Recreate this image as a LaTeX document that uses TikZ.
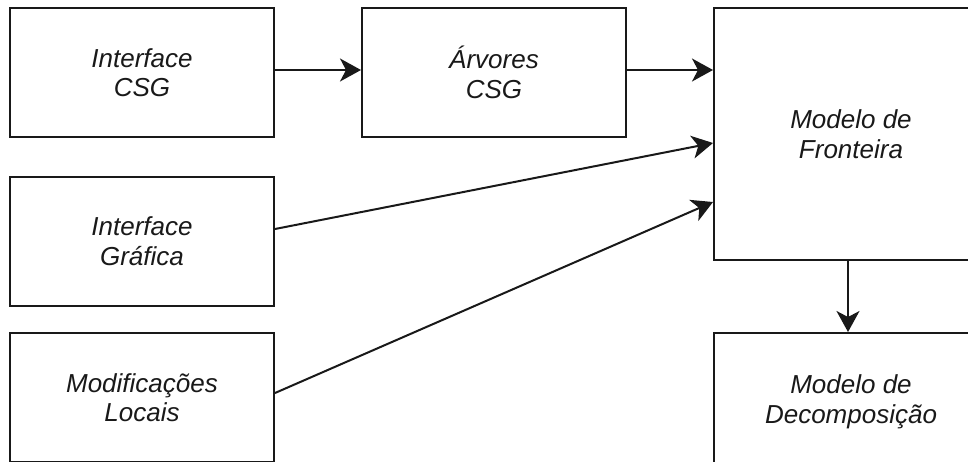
\documentclass[tikz,border=0pt]{standalone}
\usepackage{fontspec}
\setmainfont{Liberation Sans}
\usetikzlibrary{arrows.meta}

\tikzset{
  blk/.style={draw=black!90,line width=2pt,minimum width=264pt,minimum height=129pt,
    inner sep=0pt,align=center,text=black!90,
    font=\itshape\fontsize{26}{29.5}\selectfont},
  flow/.style={draw=black!90,line width=2pt,-{Stealth[length=21pt,width=23pt,inset=6pt]}}
}

\begin{document}
\begin{tikzpicture}[x=1pt,y=-1pt]
\useasboundingbox (0,0) rectangle (968,461);
\clip (0,0) rectangle (968,461);
% left column
\node[blk] (csg) at (142,72.5) {Interface\\CSG};
\node[blk] (grafica) at (142,241) {Interface\\Gráfica};
\node[blk] (modif) at (142,397.5) {Modificações\\Locais};
% middle and right
\node[blk] (arvores) at (494,72.5) {Árvores\\CSG};
\node[blk,minimum width=274pt,minimum height=252pt] (fronteira) at (851,134) {Modelo de\\Fronteira};
\node[blk,minimum width=274pt,minimum height=138pt] (decomp) at (851,402) {Modelo de\\Decomposição};
% connections
\draw[flow] ([yshift=2.5pt]csg.east) -- ([yshift=2.5pt]arvores.west);
\draw[flow] ([yshift=2.5pt]arvores.east) -- ([yshift=64pt]fronteira.west);
\draw[flow] ([yshift=12pt]grafica.east) -- ([yshift=-9pt]fronteira.west);
\draw[flow] ([yshift=4.5pt]modif.east) -- ([yshift=-68pt]fronteira.west);
\draw[flow] ([xshift=-3pt]fronteira.south) -- ([xshift=-3pt]decomp.north);
\end{tikzpicture}
\end{document}
